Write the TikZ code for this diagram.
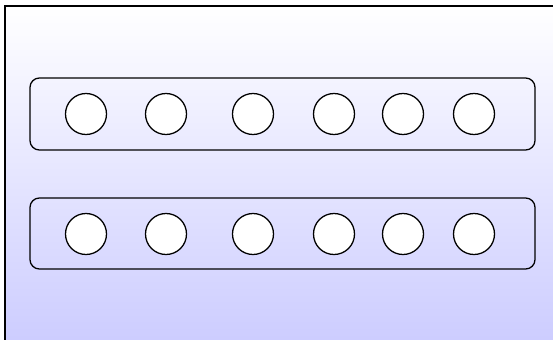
\documentclass[tikz,border=0pt]{standalone}
\usepackage{tikz}
\definecolor{lavender}{RGB}{204,204,255}
\tikzset{
  panel/.style={draw,line width=1.1pt,rounded corners=8pt},
  slot/.style={draw,circle,fill=white,line width=1.1pt,minimum size=1.23cm,inner sep=0pt}
}

\begin{document}
\begin{tikzpicture}[x=0.03cm,y=-0.03cm]
        \useasboundingbox (0,0) rectangle (553,340);
        \begin{scope}
                \clip (0,0) rectangle (553,340);
                \shade[top color=white,bottom color=lavender] (5,6) rectangle (560,345);
                \draw[line width=1.3pt] (5,345) -- (5,6) -- (560,6);
        \end{scope}
        % two rows of slots
        \draw[panel] (30,78) rectangle (535,150);
        \draw[panel] (30,198) rectangle (535,269);
        \foreach \x [count=\i] in {86,166,253,334,403,474}{
                \node[slot] (up\i) at (\x,114) {};
                \node[slot] (low\i) at (\x,234) {};
        }
\end{tikzpicture}
\end{document}
